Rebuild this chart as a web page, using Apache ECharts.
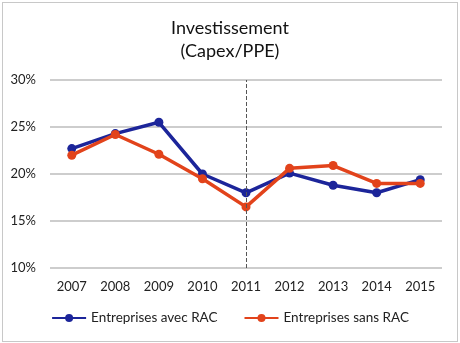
<!DOCTYPE html>
<html style="height: 100%">
<head>
<meta charset="utf-8">
</head>
<body style="height: 100%; margin: 0">
<div id="container" style="position:absolute; left:2px; top:2px; width:454px; height:338px; border:1px solid #c8c8c8;"></div>
<div id="chart" style="position:absolute; left:0; top:0; width:460px; height:343px"></div>
<script type="text/javascript" src="https://cdn.jsdelivr.net/npm/echarts@6/dist/echarts.min.js"></script>
<script type="text/javascript">
var years = ['2007', '2008', '2009', '2010', '2011', '2012', '2013', '2014', '2015'];
var avecRAC = [22.7, 24.3, 25.5, 20.0, 18.0, 20.1, 18.8, 18.0, 19.4];
var sansRAC = [22.0, 24.2, 22.1, 19.5, 16.5, 20.6, 20.9, 19.0, 19.0];

var myChart = echarts.init(document.getElementById('chart'));
var font = 'Lato, "Open Sans", sans-serif';

var option = {
    animation: false,
    textStyle: { fontFamily: font },
    title: {
        text: 'Investissement\n(Capex/PPE)',
        left: 'center',
        top: 12,
        textStyle: { fontSize: 18, fontWeight: 'normal', color: '#111', lineHeight: 23, fontFamily: font }
    },
    legend: {
        bottom: 13,
        left: 'center',
        itemWidth: 34,
        itemHeight: 10,
        itemGap: 26,
        textStyle: { fontSize: 13.5, color: '#222', fontFamily: font },
        data: ['Entreprises avec RAC', 'Entreprises sans RAC']
    },
    grid: { left: 50, right: 18, top: 80, bottom: 75 },
    xAxis: {
        type: 'category',
        data: years,
        axisLine: { show: false },
        axisTick: { show: false },
        axisLabel: { color: '#222', fontSize: 13, margin: 12, fontFamily: font }
    },
    yAxis: {
        type: 'value',
        min: 10,
        max: 30,
        interval: 5,
        axisLabel: { formatter: '{value}%', color: '#222', fontSize: 13, margin: 14, fontFamily: font },
        splitLine: { lineStyle: { color: '#bdbdbd', width: 1.5 } },
        axisLine: { show: false },
        axisTick: { show: false }
    },
    series: [
        {
            name: 'Entreprises avec RAC',
            type: 'line',
            data: avecRAC,
            symbol: 'circle',
            symbolSize: 9,
            lineStyle: { width: 3.5, color: '#1c259a' },
            itemStyle: { color: '#1c259a' },
            markLine: {
                silent: true,
                symbol: 'none',
                label: { show: false },
                lineStyle: { type: 'dashed', color: '#555', width: 1 },
                data: [{ xAxis: '2011' }]
            },
            z: 3
        },
        {
            name: 'Entreprises sans RAC',
            type: 'line',
            data: sansRAC,
            symbol: 'circle',
            symbolSize: 9,
            lineStyle: { width: 3.5, color: '#e2431b' },
            itemStyle: { color: '#e2431b' },
            z: 4
        }
    ]
};
myChart.setOption(option);
</script>
</body>
</html>
